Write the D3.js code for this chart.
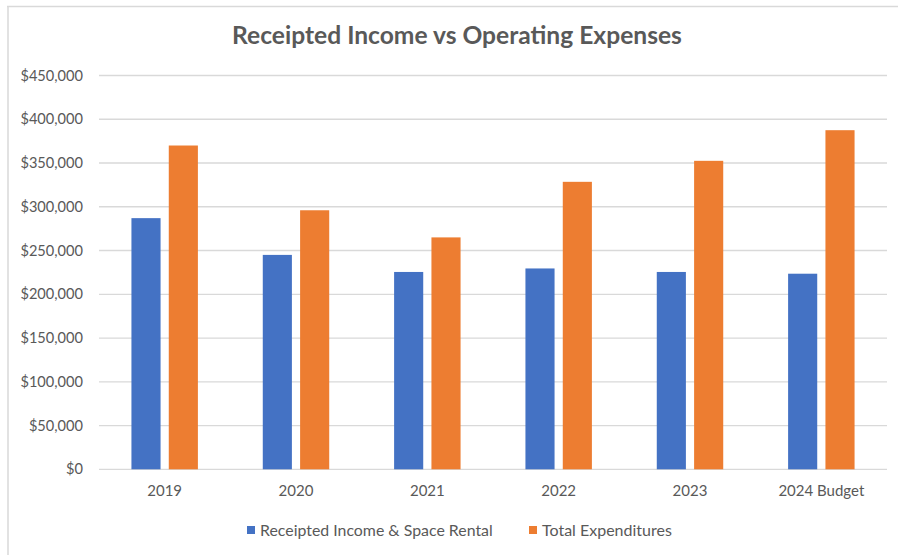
<!DOCTYPE html>
<html>
<head>
<meta charset="utf-8">
<script src="https://cdn.jsdelivr.net/npm/d3@7"></script>
<style>
  body { margin: 0; background: #fff; }
  text { font-family: Lato, "Open Sans", sans-serif; }
</style>
</head>
<body>
<div id="chart"></div>
<script>
// Chart data
const categories = ["2019", "2020", "2021", "2022", "2023", "2024 Budget"];
const seriesNames = ["Receipted Income & Space Rental", "Total Expenditures"];
const income = [287000, 245000, 225500, 229500, 225500, 223500];
const expenses = [370000, 296000, 265000, 328500, 352500, 387500];
const yTicks = [0, 50000, 100000, 150000, 200000, 250000, 300000, 350000, 400000, 450000];
const colors = ["#4472C4", "#ED7D31"];

const width = 898, height = 555;
const margin = {top: 75.5, right: 11, bottom: 85.7, left: 99};
const plotW = width - margin.left - margin.right;
const plotH = height - margin.top - margin.bottom;

const svg = d3.select("#chart").append("svg")
  .attr("width", width)
  .attr("height", height);

// outer frame (only top and left edges are visible)
svg.append("line").attr("x1", 7).attr("x2", width).attr("y1", 6.5).attr("y2", 6.5)
  .attr("stroke", "#d9d9d9").attr("stroke-width", 1.5);
svg.append("line").attr("x1", 8).attr("x2", 8).attr("y1", 6).attr("y2", height)
  .attr("stroke", "#d9d9d9").attr("stroke-width", 1.5);

// shrink or grow a label so it spans the width seen in the reference
function fitText(sel, size, target) {
  sel.style("font-size", size + "px");
  const w = sel.node().getComputedTextLength();
  sel.style("font-size", (size * target / w) + "px");
}

// title
const title = svg.append("text")
  .attr("x", 457)
  .attr("y", 44)
  .attr("text-anchor", "middle")
  .attr("fill", "#595959")
  .style("font-weight", "bold")
  .text("Receipted Income vs Operating Expenses");
fitText(title, 22, 450);

const g = svg.append("g")
  .attr("transform", `translate(${margin.left},${margin.top})`);

// scales
const x0 = d3.scaleBand()
  .domain(categories)
  .range([0, plotW]);

const x1 = d3.scaleBand()
  .domain([0, 1])
  .range([x0.bandwidth() * 0.247, x0.bandwidth() * 0.753])
  .paddingInner(0.22);

const y = d3.scaleLinear()
  .domain([0, 450000])
  .range([plotH, 0]);

// gridlines
g.append("g")
  .selectAll("line")
  .data(yTicks)
  .enter()
  .append("line")
  .attr("x1", 0)
  .attr("x2", plotW)
  .attr("y1", d => y(d))
  .attr("y2", d => y(d))
  .attr("stroke", "#d9d9d9")
  .attr("stroke-width", 1.3);

// y axis labels
const yAxis = g.append("g")
  .call(d3.axisLeft(y).tickValues(yTicks).tickSize(0).tickPadding(16)
    .tickFormat(d => "$" + d3.format(",")(d)));
yAxis.select(".domain").remove();
yAxis.selectAll("text")
  .attr("fill", "#595959")
  .style("font-size", "14.6px")
  .style("font-family", "Lato, sans-serif");

// x axis labels
const xAxis = g.append("g")
  .attr("transform", `translate(0,${plotH})`)
  .call(d3.axisBottom(x0).tickSize(0).tickPadding(16));
xAxis.select(".domain").remove();
xAxis.selectAll("text")
  .attr("fill", "#595959")
  .style("font-size", "15px")
  .style("font-family", "Lato, sans-serif");

// bars
const series = [income, expenses];
series.forEach((vals, si) => {
  g.append("g")
    .selectAll("rect")
    .data(vals)
    .enter()
    .append("rect")
    .attr("x", (d, i) => x0(categories[i]) + x1(si))
    .attr("width", x1.bandwidth())
    .attr("y", d => y(d))
    .attr("height", d => plotH - y(d))
    .attr("fill", colors[si]);
});

// legend
const legendPos = [247, 529];
const legendW = [233, 130];
const legend = svg.append("g");
seriesNames.forEach((name, i) => {
  legend.append("rect")
    .attr("x", legendPos[i])
    .attr("y", 526)
    .attr("width", 8)
    .attr("height", 8)
    .attr("fill", colors[i]);
  const t = legend.append("text")
    .attr("x", legendPos[i] + 13)
    .attr("y", 535.5)
    .attr("fill", "#595959")
    .text(name);
  fitText(t, 13, legendW[i]);
});
</script>
</body>
</html>
